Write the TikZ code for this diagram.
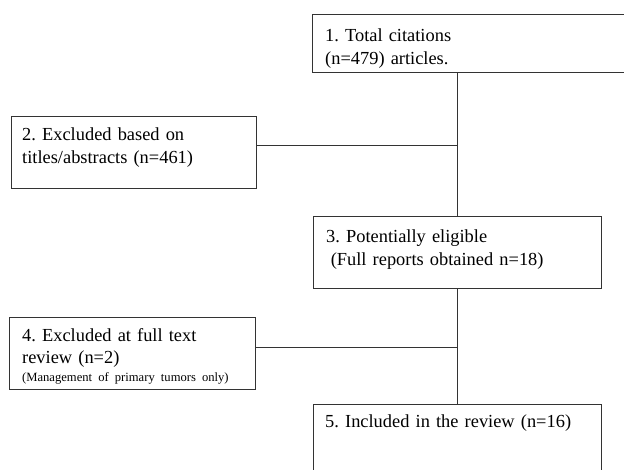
\documentclass[tikz,border=0pt]{standalone}
\usepackage{fontspec}
\setmainfont{Liberation Serif}
\usetikzlibrary{positioning,calc}
\frenchspacing
\tikzset{stepbox/.style={draw=black!80, line width=0.9pt, rectangle, inner sep=0pt, anchor=north west}}
\tikzset{steptext/.style={anchor=base west, inner sep=0pt, text width=#1, align=left, font=\fontsize{18.4}{23}\selectfont}}
\tikzset{link/.style={draw=black!80, line width=0.9pt}}
\begin{document}
\begin{tikzpicture}[x=1pt,y=-1pt]
			\useasboundingbox (0,0) rectangle (624,469);
			\clip (0,0) rectangle (624,469);

			\node[stepbox, minimum width=330, minimum height=58] (total) at (312,14) {};
			\node[steptext=290] (total-t) at ([xshift=13pt,yshift=-27pt]total.north west) {1. Total citations\\(n=479) articles.};

			\node[stepbox, minimum width=245, minimum height=72] (excl1) at (11,116) {};
			\node[steptext=230] (excl1-t) at ([xshift=11pt,yshift=-24pt]excl1.north west) {2. Excluded based on\\titles/abstracts (n=461)};

			\node[stepbox, minimum width=288, minimum height=72] (elig) at (313,216) {};
			\node[steptext=275] (elig-t) at ([xshift=13pt,yshift=-26pt]elig.north west) {3. Potentially eligible\\\hspace*{0.25em}(Full reports obtained n=18)};

			\node[stepbox, minimum width=246, minimum height=72] (excl2) at (9,317) {};
			\node[steptext=235] (excl2-t) at ([xshift=13pt,yshift=-24pt]excl2.north west) {\fontsize{18.4}{22}\selectfont 4. Excluded at full text\\review (n=2)\\[-5pt]{\fontsize{12.6}{16}\selectfont (Management of primary tumors only)}};

			\node[stepbox, minimum width=288, minimum height=100] (incl) at (313,404) {};
			\node[steptext=275] (incl-t) at ([xshift=12pt,yshift=-23pt]incl.north west) {5. Included in the review (n=16)};

%			trunk and side branches
			\coordinate (m1) at (457,145);
			\coordinate (m2) at (457,347);
			\draw[link] (total.south -| m1) -- (elig.north -| m1);
			\draw[link] (excl1.east |- m1) -- (m1);
			\draw[link] (elig.south -| m2) -- (incl.north -| m2);
			\draw[link] (excl2.east |- m2) -- (m2);
		\end{tikzpicture}
\end{document}
